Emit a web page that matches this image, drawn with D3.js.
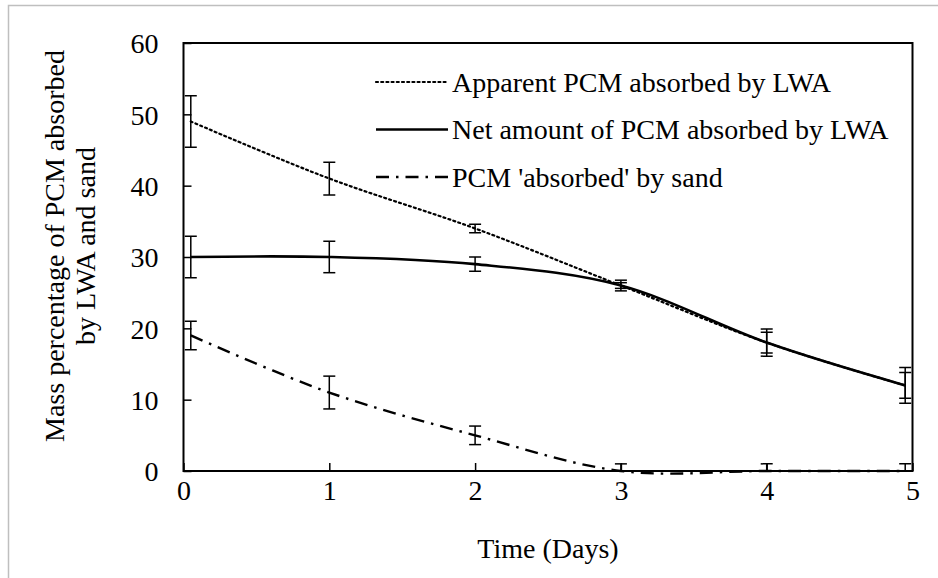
<!DOCTYPE html>
<html>
<head>
<meta charset="utf-8">
<script src="https://d3js.org/d3.v7.min.js"></script>
<style>
  body { margin: 0; background: #fff; }
</style>
</head>
<body>
<div id="chart"></div>
<script>
// Chart data
const days = [0.05, 1, 2, 3, 4, 4.95];
const apparentLWA = [49, 41, 34, 26, 18, 12];
const apparentErr = [3.6, 2.3, 0.6, 0.75, 1.45, 1.8];
const netLWA = [30, 30, 29, 26, 18, 12];
const netErr = [2.9, 2.2, 1.0, 0.4, 1.9, 2.5];
const sandPCM = [19, 11, 5, 0, 0, 0];
const sandErr = [2.0, 2.3, 1.3, 1.0, 1.0, 1.0];
const xTicks = [0, 1, 2, 3, 4, 5];
const yTicks = [0, 10, 20, 30, 40, 50, 60];
const legendLabels = ["Apparent PCM absorbed by LWA", "Net amount of PCM absorbed by LWA", "PCM 'absorbed' by sand"];

const W = 938, H = 578;
const plot = { left: 183.5, right: 912.5, top: 43, bottom: 471 };
const fontSize = 28;
const serif = '"Liberation Serif", "Times New Roman", serif';

const svg = d3.select('#chart').append('svg')
  .attr('width', W)
  .attr('height', H)
  .style('font-family', serif);

// Outer chart border (light gray, cut by the image edge)
svg.append('rect')
  .attr('x', 8.5).attr('y', 5.5)
  .attr('width', W).attr('height', H)
  .style('fill', '#fff')
  .style('stroke', '#bfbfbf')
  .style('stroke-width', 1.5);

const x = d3.scaleLinear().domain([0, 5]).range([plot.left, plot.right]);
const y = d3.scaleLinear().domain([0, 60]).range([plot.bottom, plot.top]);

const series = [
  { name: legendLabels[0], values: apparentLWA, err: apparentErr, width: 2.2, dash: '2,3.2', cap: 'round' },
  { name: legendLabels[1], values: netLWA, err: netErr, width: 2.6, dash: null, cap: 'butt' },
  { name: legendLabels[2], values: sandPCM, err: sandErr, width: 2.4, dash: '13,7,2.5,7', cap: 'butt' }
];

// Clip for error bars (hidden below the axis)
svg.append('defs').append('clipPath').attr('id', 'plotClip')
  .append('rect')
  .attr('x', plot.left).attr('y', plot.top)
  .attr('width', plot.right - plot.left).attr('height', plot.bottom - plot.top);

// Axes (ticks inside)
const xAxis = d3.axisBottom(x).tickValues(xTicks).tickFormat(d3.format('d'))
  .tickSizeInner(-8).tickSizeOuter(0).tickPadding(9);
const yAxis = d3.axisLeft(y).tickValues(yTicks).tickFormat(d3.format('d'))
  .tickSizeInner(-8).tickSizeOuter(0).tickPadding(25);

const gx = svg.append('g').attr('transform', `translate(0,${plot.bottom})`).call(xAxis);
const gy = svg.append('g').attr('transform', `translate(${plot.left},0)`).call(yAxis);

[gx, gy].forEach(g => {
  g.attr('font-family', null).attr('font-size', null);
  g.select('.domain').remove();
  g.selectAll('.tick line').style('stroke', '#000').style('stroke-width', 1.5);
  g.selectAll('.tick text')
    .style('font-size', fontSize + 'px')
    .style('font-family', serif)
    .attr('fill', '#000');
});
gy.selectAll('.tick text').attr('dy', '0.35em');
gx.selectAll('.tick text').attr('dy', '0.71em');

// Plot frame
svg.append('rect')
  .attr('x', plot.left).attr('y', plot.top)
  .attr('width', plot.right - plot.left).attr('height', plot.bottom - plot.top)
  .style('fill', 'none')
  .style('stroke', '#000')
  .style('stroke-width', 2);

// Error bars
const errG = svg.append('g').attr('clip-path', 'url(#plotClip)');
series.forEach(s => {
  s.values.forEach((v, i) => {
    const cx = x(days[i]);
    const y1 = y(v + s.err[i]);
    const y2 = y(v - s.err[i]);
    errG.append('line')
      .attr('x1', cx).attr('x2', cx).attr('y1', y1).attr('y2', y2)
      .style('stroke', '#000').style('stroke-width', 1.5);
    [y1, y2].forEach(yy => {
      errG.append('line')
        .attr('x1', cx - 6).attr('x2', cx + 6).attr('y1', yy).attr('y2', yy)
        .style('stroke', '#000').style('stroke-width', 1.5);
    });
  });
});

// Smoothed lines
const line = d3.line()
  .x(d => x(d[0]))
  .y(d => y(d[1]))
  .curve(d3.curveCatmullRom.alpha(0));

series.forEach(s => {
  svg.append('path')
    .datum(days.map((d, i) => [d, s.values[i]]))
    .attr('d', line)
    .style('fill', 'none')
    .style('stroke', '#000')
    .style('stroke-width', s.width)
    .style('stroke-linecap', s.cap)
    .style('stroke-dasharray', s.dash);
});

// Legend
const legend = svg.append('g');
series.forEach((s, i) => {
  const ly = 82 + i * 47.5;
  legend.append('line')
    .attr('x1', 376).attr('x2', 448).attr('y1', ly).attr('y2', ly)
    .style('stroke', '#000')
    .style('stroke-width', s.width)
    .style('stroke-linecap', s.cap)
    .style('stroke-dasharray', s.dash);
  legend.append('text')
    .attr('x', 452).attr('y', ly).attr('dy', '0.35em')
    .style('font-size', fontSize + 'px')
    .text(s.name);
});

// Axis titles
svg.append('text')
  .attr('x', (plot.left + plot.right) / 2).attr('y', 558)
  .attr('text-anchor', 'middle')
  .style('font-size', fontSize + 'px')
  .text('Time (Days)');

const yTitle = svg.append('text')
  .attr('transform', 'translate(0,246) rotate(-90)')
  .attr('text-anchor', 'middle')
  .style('font-size', fontSize + 'px');
yTitle.append('tspan').attr('x', 0).attr('y', 64).text('Mass percentage of PCM absorbed');
yTitle.append('tspan').attr('x', 0).attr('y', 95).text('by LWA and sand');
</script>
</body>
</html>
